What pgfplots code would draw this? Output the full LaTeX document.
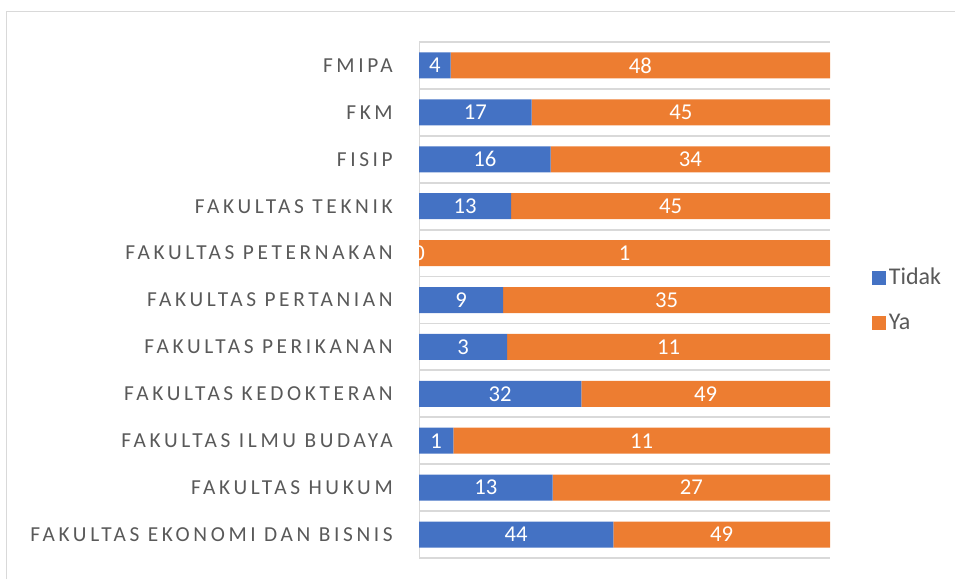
\documentclass[border=0pt]{standalone}
\usepackage{pgfplots}
\pgfplotsset{compat=1.18}
\usepackage{fontspec}
\setmainfont{Carlito}
\newfontfamily\labelfont[LetterSpace=17]{Carlito}
\definecolor{cblue}{HTML}{4472C4}
\definecolor{corange}{HTML}{ED7D31}
\definecolor{ctext}{HTML}{595959}
\definecolor{cgrid}{HTML}{D9D9D9}
\begin{document}
\begin{tikzpicture}
\useasboundingbox (0,0) rectangle (716.25pt,434.25pt);
% outer chart frame (top and left visible)
\draw[cgrid, line width=0.75pt] (4.5pt,0) -- (4.5pt,425.25pt) -- (716.25pt,425.25pt);
\pgfplotsset{
  common/.style={
    at={(314.25pt,15.75pt)}, anchor=south west,
    width=308.25pt, height=387pt, scale only axis,
    xmin=0, xmax=100, ymin=-0.5, ymax=10.5,
    clip=false,
  }
}
\begin{axis}[common,
  xbar stacked,
  bar width=19.5pt,
  axis x line=none,
  axis y line*=left,
  y axis line style={draw=cgrid, line width=0.75pt, -},
  ytick={0,...,10},
  major tick length=0pt,
  yticklabels={FAKULTAS EKONOMI DAN BISNIS,FAKULTAS HUKUM,FAKULTAS ILMU BUDAYA,FAKULTAS KEDOKTERAN,FAKULTAS PERIKANAN,FAKULTAS PERTANIAN,FAKULTAS PETERNAKAN,FAKULTAS TEKNIK,FISIP,FKM,FMIPA},
  yticklabel style={font=\labelfont\fontsize{16}{19}\selectfont, text=ctext, anchor=east, inner sep=0pt, xshift=-19.5pt},
  minor ytick={-0.5,0.5,...,10.5},
  yminorgrids=true,
  minor grid style={draw=cgrid, line width=1.3pt},
  minor tick length=0pt,
  legend style={at={(1.102,0.5)}, anchor=west, draw=none, fill=none,
    font=\fontsize{18}{21}\selectfont, text=ctext,
    row sep=16.5pt, inner sep=0pt,
    /tikz/every even column/.append style={column sep=0pt}},
  legend cell align=left,
  legend image code/.code={\fill[#1] (0pt,-5.25pt) rectangle (10.5pt,5.25pt);},
]
\addplot[fill=cblue, draw=none] coordinates {
(47.312,0) (32.5,1) (8.333,2) (39.506,3) (21.429,4) (20.455,5) (0,6) (22.414,7) (32,8) (27.419,9) (7.692,10)};
\addplot[fill=corange, draw=none] coordinates {
(52.688,0) (67.5,1) (91.667,2) (60.494,3) (78.571,4) (79.545,5) (100,6) (77.586,7) (68,8) (72.581,9) (92.308,10)};
\legend{Tidak,Ya}
\end{axis}
\begin{axis}[common, hide axis]
\addplot[only marks, mark=none, point meta=explicit symbolic,
  nodes near coords, nodes near coords style={anchor=center, text=white, font=\fontsize{17}{20}\selectfont}]
coordinates {
(23.656,0)[44] (16.25,1)[13] (4.167,2)[1] (19.753,3)[32] (10.714,4)[3] (10.227,5)[9] (0,6)[0] (11.207,7)[13] (16,8)[16] (13.710,9)[17] (3.846,10)[4]};
\addplot[only marks, mark=none, point meta=explicit symbolic,
  nodes near coords, nodes near coords style={anchor=center, text=white, font=\fontsize{17}{20}\selectfont}]
coordinates {
(73.656,0)[49] (66.25,1)[27] (54.167,2)[11] (69.753,3)[49] (60.714,4)[11] (60.227,5)[35] (50,6)[1] (61.207,7)[45] (66,8)[34] (63.710,9)[45] (53.846,10)[48]};
\end{axis}
\end{tikzpicture}
\end{document}
